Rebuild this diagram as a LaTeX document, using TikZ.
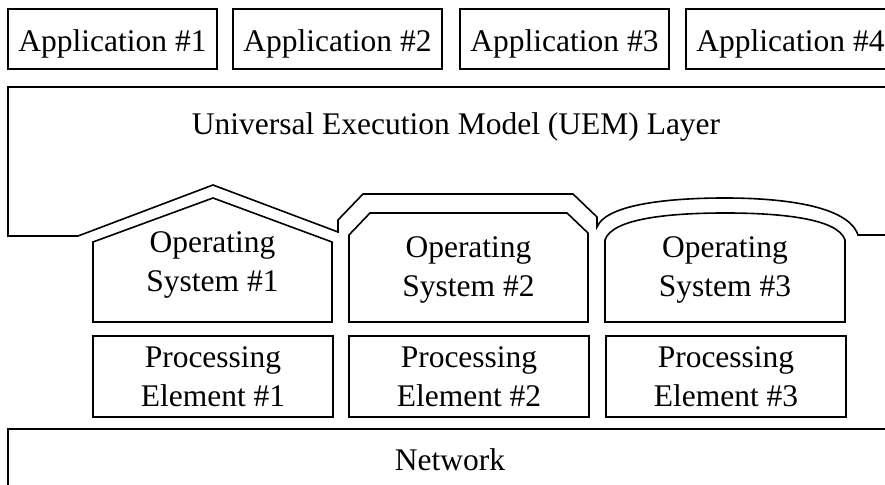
\documentclass[tikz,border=0pt]{standalone}
\usepackage{fontspec}
\setmainfont{Liberation Serif}
\usetikzlibrary{positioning}

\begin{document}
\begin{tikzpicture}[x=0.5pt,y=-0.5pt,line width=0.8pt,every node/.style={font=\fontsize{15.75}{19.5}\selectfont,align=center,inner sep=0pt},app/.style={draw,minimum width=104.5pt,minimum height=30pt,text height=13pt,text depth=0pt},pe/.style={draw,minimum width=120pt,minimum height=40.5pt}]
  \useasboundingbox (0,0) rectangle (885,485);
  \clip (0,0) rectangle (885,485);
  \node[app] (app1) at (112.5,39) {Application \#1};
  \node[app] (app2) [right=7.2pt of app1] {Application \#2};
  \node[app] (app3) [right=8.2pt of app2] {Application \#3};
  \node[app] (app4) [right=7.7pt of app3] {Application \#4};
  \draw (894,87) -- (8,87) -- (8,236) -- (78,236) -- (213,185) -- (338,232) -- (338,220) -- (363,194) -- (573,194) -- (597,217) -- (597,227)
    .. controls (607,203) and (675,198) .. (725,198) .. controls (780,198) and (848,205) .. (858,235) -- (894,235);
  \node[anchor=base] (uem) at (456,135) {Universal Execution Model (UEM) Layer};
  \draw (93,322) -- (93,242) -- (213,198) -- (332,242) -- (332,322) -- cycle;
  \draw (349,322) -- (349,235) -- (370,213) -- (567,213) -- (588,233) -- (588,322) -- cycle;
  \draw (605,322) -- (605,240) .. controls (612,218) and (672,213) .. (725,213) .. controls (778,213) and (838,218) .. (845,240) -- (845,322) -- cycle;
  \node (os1) at (212.5,265) {Operating\\System \#1};
  \node (os2) at (468.5,270) {Operating\\System \#2};
  \node (os3) at (725,270) {Operating\\System \#3};
  \node[pe] (pe1) at (213,376.5) {Processing\\Element \#1};
  \node[pe] (pe2) [right=7.2pt of pe1] {Processing\\Element \#2};
  \node[pe] (pe3) [right=7.7pt of pe2] {Processing\\Element \#3};
  \node[draw,minimum width=442pt,minimum height=30.25pt] (net) at (450,459.25) {Network};
\end{tikzpicture}
\end{document}
